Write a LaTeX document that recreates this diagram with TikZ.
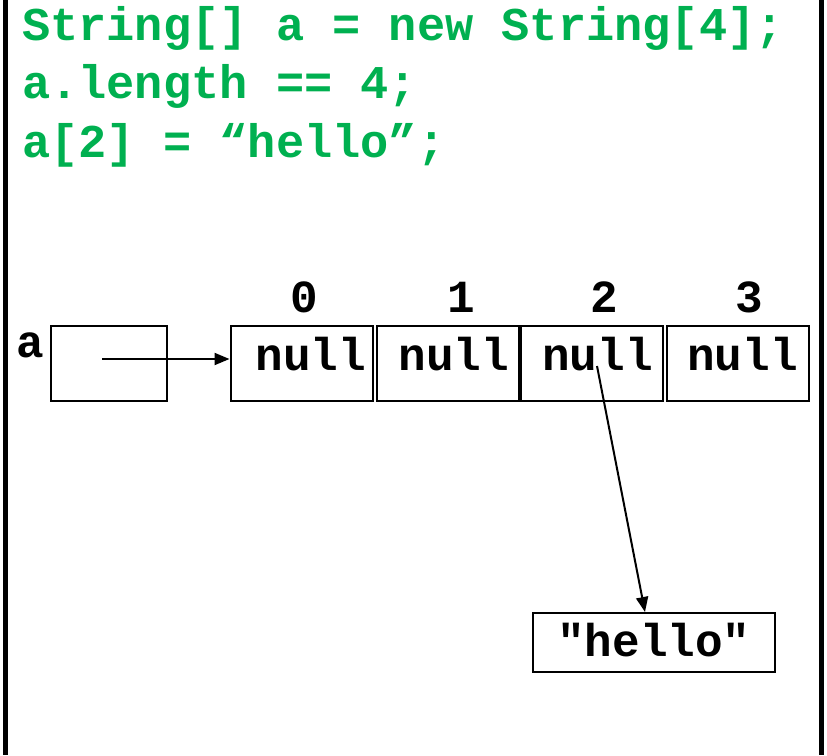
\documentclass[tikz,border=0pt]{standalone}
\usepackage{fontspec}
\setmonofont{Liberation Mono}
\usetikzlibrary{arrows.meta}
\definecolor{codegreen}{HTML}{00B050}
\begin{document}
\begin{tikzpicture}[x=1pt,y=-1pt,
  txt/.style={inner sep=0pt,anchor=base,font=\fontsize{46}{50}\selectfont\ttfamily\bfseries},
  code/.style={inner sep=0pt,anchor=base west,text=codegreen,font=\fontsize{47}{50}\selectfont\ttfamily\bfseries},
  cell/.style={draw,line width=2pt,minimum width=142pt,minimum height=75pt,inner sep=0pt},
  ptr/.style={line width=2pt,-{Triangle[length=15pt,width=12pt]}},
  frame/.style={line width=5pt}]
\useasboundingbox (0,0) rectangle (827,755);
\draw[frame] (5.5,0) coordinate (fl1) -- (5.5,755) coordinate (fl2);
\draw[frame] (821.5,0) coordinate (fr1) -- (821.5,755) coordinate (fr2);
\node[code] (l1) at (22,40) {String[] a = new String[4];};
\node[code] (l2) at (22,98) {a.length == 4;};
\node[code] (l3) at (22,157) {a[2] = “hello”;};
\node[txt,anchor=base west] (alab) at (16,357) {a};
\node[draw,line width=2pt,minimum width=116pt,minimum height=75pt,inner sep=0pt] (abox) at (109,363.5) {};
\node[cell] (c0) at (301.5,363.5) {};
\node[cell] (c1) at (448,363.5) {};
\node[cell] (c2) at (592,363.5) {};
\node[cell] (c3) at (737.5,363.5) {};
\node[txt] (n0) at (311,370) {null};
\node[txt] (n1) at (454,370) {null};
\node[txt] (n2) at (597.5,370) {null};
\node[txt] (n3) at (742.5,370) {null};
\node[txt] (i0) at (304,312) {0};
\node[txt] (i1) at (461,312) {1};
\node[txt] (i2) at (604,312) {2};
\node[txt] (i3) at (749,312) {3};
\node[draw,line width=2pt,minimum width=242pt,minimum height=59pt,inner sep=0pt] (hbox) at (654,642.5) {};
\node[txt] (htxt) at (654,656) {"hello"};
\coordinate (astart) at (102,359);
\coordinate (pstart) at (597,366);
\draw[ptr] (astart) -- (c0.west |- astart);
\draw[ptr] (pstart) -- (hbox.north -| 645,0);
\end{tikzpicture}
\end{document}
